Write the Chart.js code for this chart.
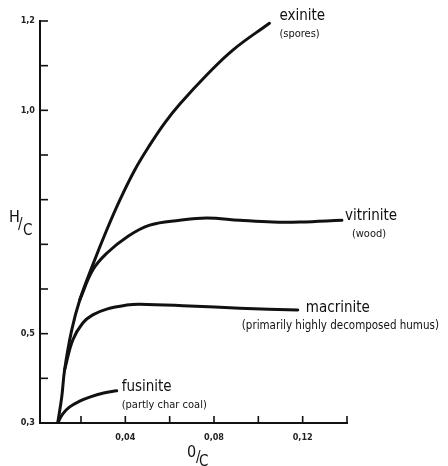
<!DOCTYPE html>
<html><head><meta charset="utf-8">
<script src="https://cdn.jsdelivr.net/npm/chart.js@4"></script>
<style>html,body{margin:0;padding:0;background:#fff}</style>
</head><body>
<canvas id="c" width="448" height="466"></canvas>
<script>
// O/C (x) and H/C (y) values
const exiniteOC  = [0.0095, 0.0113, 0.0126, 0.0158, 0.0194, 0.0253, 0.0316, 0.0375, 0.0442, 0.0510, 0.0578, 0.0646, 0.0767, 0.0885, 0.1050];
const exiniteHC  = [0.300, 0.358, 0.419, 0.508, 0.575, 0.654, 0.732, 0.799, 0.866, 0.922, 0.972, 1.014, 1.079, 1.135, 1.195];
const vitriniteOC = [0.0194, 0.0253, 0.0316, 0.0406, 0.0510, 0.0646, 0.0767, 0.0916, 0.1065, 0.1187, 0.1377];
const vitriniteHC = [0.575, 0.6425, 0.680, 0.716, 0.743, 0.754, 0.759, 0.754, 0.750, 0.750, 0.754];
const macriniteOC = [0.0126, 0.0163, 0.0208, 0.0253, 0.0316, 0.0406, 0.0465, 0.0690, 0.0916, 0.1178];
const macriniteHC = [0.419, 0.486, 0.524, 0.542, 0.555, 0.564, 0.566, 0.562, 0.557, 0.553];
const fusiniteOC = [0.0095, 0.0117, 0.0149, 0.0194, 0.0239, 0.0302, 0.0361];
const fusiniteHC = [0.300, 0.320, 0.336, 0.349, 0.358, 0.367, 0.372];

const xTickValues = [0.02, 0.04, 0.06, 0.08, 0.10, 0.12, 0.14];
const xTickLabels = {'0.04': '0,04', '0.08': '0,08', '0.12': '0,12'};
const yTickLabels = {'1.2': '1,2', '1.0': '1,0', '0.5': '0,5', '0.3': '0,3'};

const seriesNames = ['exinite', 'vitrinite', 'macrinite', 'fusinite'];
const seriesNotes = ['(spores)', '(wood)', '(primarily highly decomposed humus)', '(partly char coal)'];

const FONT = '"DejaVu Sans Condensed", "DejaVu Sans", sans-serif';

function pts(xs, ys) { return xs.map((x, i) => ({x: x, y: ys[i]})); }

const lineStyle = {borderColor: '#111', borderWidth: 3, pointRadius: 0, fill: false,
  tension: 0.4, borderCapStyle: 'round', borderJoinStyle: 'round'};

const innerTicks = {
  id: 'innerTicks',
  afterDraw(chart) {
    const ctx = chart.ctx, xs = chart.scales.x, ys = chart.scales.y;
    ctx.save();
    ctx.strokeStyle = '#111'; ctx.lineWidth = 1.6;
    xs.ticks.forEach((t, i) => {
      const px = xs.getPixelForTick(i);
      ctx.beginPath(); ctx.moveTo(px, ys.bottom); ctx.lineTo(px, ys.bottom - 7); ctx.stroke();
    });
    ys.ticks.forEach((t, i) => {
      const py = ys.getPixelForTick(i);
      ctx.beginPath(); ctx.moveTo(xs.left, py); ctx.lineTo(xs.left + 8, py); ctx.stroke();
    });
    ctx.restore();
  }
};

const labels = {
  id: 'labels',
  afterDraw(chart) {
    const ctx = chart.ctx, xs = chart.scales.x, ys = chart.scales.y;
    ctx.save();
    ctx.fillStyle = '#111';
    ctx.textBaseline = 'alphabetic';
    ctx.textAlign = 'left';
    const ends = [
      [exiniteOC, exiniteHC, 10, -3],
      [vitriniteOC, vitriniteHC, 3, 0],
      [macriniteOC, macriniteHC, 8, 2],
      [fusiniteOC, fusiniteHC, 5, 0]
    ];
    const noteShift = [0, 7, -64, 0];
    ends.forEach((e, i) => {
      const n = e[0].length - 1;
      const px = xs.getPixelForValue(e[0][n]) + e[2];
      const py = ys.getPixelForValue(e[1][n]) + e[3];
      ctx.font = '15px ' + FONT;
      ctx.fillText(seriesNames[i], px, py);
      ctx.font = (i === 2 ? '11.5px ' : '11px ') + FONT;
      ctx.fillText(seriesNotes[i], px + noteShift[i], py + 17);
    });
    // axis titles H/C and O/C
    ctx.font = '16px ' + FONT;
    ctx.fillText('H', 9, 222);
    ctx.font = '15px ' + FONT;
    ctx.fillText('/', 18, 229);
    ctx.fillText('C', 23, 235);
    ctx.font = '16px ' + FONT;
    ctx.fillText('0', 187, 457);
    ctx.font = '15px ' + FONT;
    ctx.fillText('/', 196, 462);
    ctx.fillText('C', 199, 466);
    ctx.restore();
  }
};

new Chart(document.getElementById('c'), {
  type: 'line',
  data: {
    datasets: [
      Object.assign({label: 'exinite', data: pts(exiniteOC, exiniteHC)}, lineStyle),
      Object.assign({label: 'vitrinite', data: pts(vitriniteOC, vitriniteHC)}, lineStyle),
      Object.assign({label: 'macrinite', data: pts(macriniteOC, macriniteHC)}, lineStyle),
      Object.assign({label: 'fusinite', data: pts(fusiniteOC, fusiniteHC)}, lineStyle)
    ]
  },
  options: {
    responsive: false,
    animation: false,
    devicePixelRatio: 1,
    layout: {padding: {top: 21, right: 101, left: 0, bottom: 0}},
    plugins: {legend: {display: false}, tooltip: {enabled: false}},
    scales: {
      x: {
        type: 'linear', min: 0.0015, max: 0.14,
        afterBuildTicks(s) { s.ticks = xTickValues.map(v => ({value: v})); },
        afterFit(s) { s.height = 43; },
        grid: {display: false, drawTicks: false},
        border: {display: true, color: '#111', width: 2},
        ticks: {
          padding: 9, color: '#222', maxRotation: 0, autoSkip: false,
          font: {family: FONT, size: 9, weight: 'bold'},
          callback: v => xTickLabels[v.toFixed(2)] || ''
        }
      },
      y: {
        type: 'linear', min: 0.3, max: 1.2,
        afterFit(s) { s.width = 40; },
        grid: {display: false, drawTicks: false},
        border: {display: true, color: '#111', width: 2},
        ticks: {
          stepSize: 0.1, padding: 5, color: '#222', autoSkip: false,
          font: {family: FONT, size: 9, weight: 'bold'},
          callback: v => yTickLabels[v.toFixed(1)] || ''
        }
      }
    }
  },
  plugins: [innerTicks, labels]
});
</script>
</body></html>
